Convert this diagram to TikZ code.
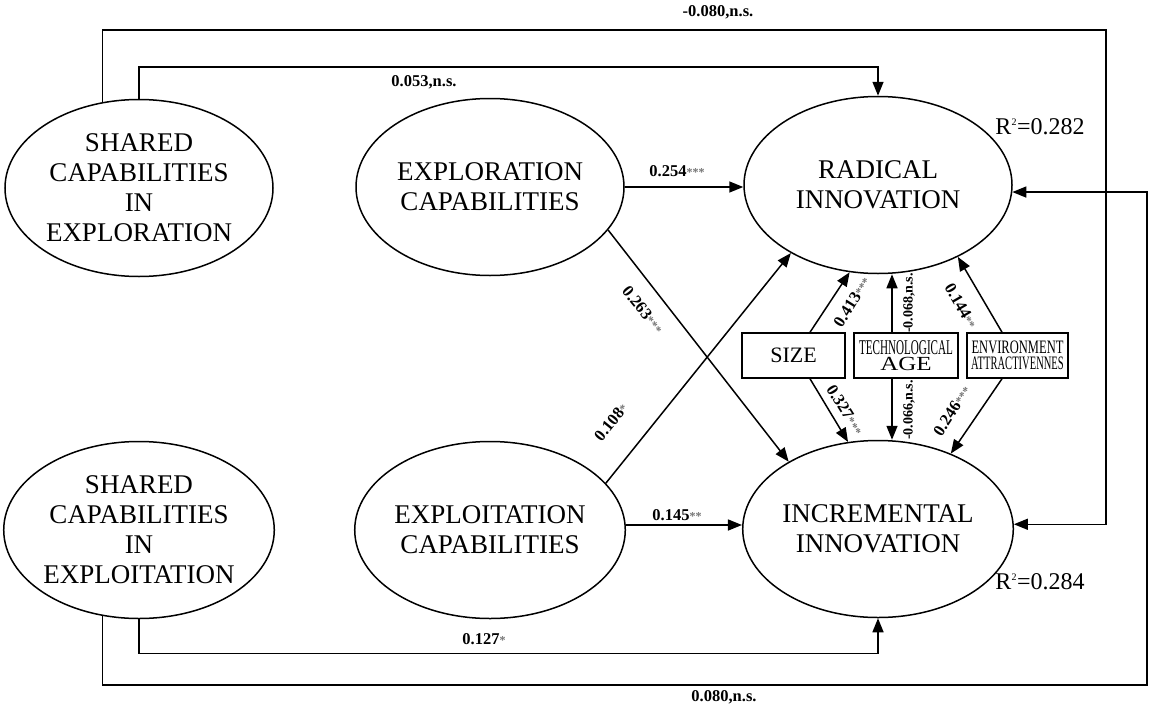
\documentclass[tikz,border=0pt]{standalone}
\usepackage{fontspec}
\setmainfont{Liberation Serif}
\usetikzlibrary{arrows.meta,shapes.geometric}
\newcommand{\sigst}[1]{{\fontsize{12}{12}\selectfont\color{black!55}#1}}
\begin{document}
\begin{tikzpicture}[x=1pt,y=-1pt,
  lat/.style={ellipse,draw,line width=1.5pt,minimum width=268pt,minimum height=177pt,inner sep=0pt,align=center,font=\fontsize{27}{30}\selectfont},
  ctl/.style={rectangle,draw,line width=1.5pt,minimum height=45pt,inner sep=0pt,align=center},
  conn/.style={line width=1.5pt},
  arr/.style={conn,-{Triangle[length=14pt,width=11pt]}},
  coef/.style={font=\fontsize{16.5}{16.5}\selectfont\bfseries,inner sep=1pt},
  vcoef/.style={font=\fontsize{14}{14}\selectfont\bfseries,inner sep=1pt,rotate=90},
  rsq/.style={font=\fontsize{24}{24}\selectfont,inner sep=0pt}
]
\useasboundingbox (0,0) rectangle (1153,709);

% latent variables
\node[lat] (sce) at (139,188) {SHARED\\CAPABILITIES\\IN\\EXPLORATION};
\node[lat] (sxp) at (139,530) {SHARED\\CAPABILITIES\\IN\\EXPLOITATION};
\node[lat] (ecap) at (490,187) {EXPLORATION\\CAPABILITIES};
\node[lat] (xcap) at (490,530) {EXPLOITATION\\CAPABILITIES};
\node[lat] (rad) at (878,185) {RADICAL\\INNOVATION};
\node[lat] (inc) at (878,529) {INCREMENTAL\\INNOVATION};

% control boxes
\node[ctl,minimum width=103pt,font=\fontsize{22}{22}\selectfont] (size) at (793.5,355.5) {SIZE};
\node[ctl,minimum width=104pt] (tech) at (906,355.5)
  {{\fontsize{21}{19}\selectfont\scalebox{0.53}[1]{TECHNOLOGICAL}}\\[2pt]{\fontsize{20}{19}\selectfont\scalebox{1.25}[1]{AGE}}};
\node[ctl,minimum width=101pt] (env) at (1017.5,355.5)
  {{\fontsize{19}{19}\selectfont\scalebox{0.66}[1]{ENVIRONMENT}}\\[2pt]{\fontsize{19}{19}\selectfont\scalebox{0.555}[1]{ATTRACTIVENNES}}};

% R squared
\node[rsq] (r1) at (1040,127) {R\textsuperscript{\fontsize{10}{10}\selectfont 2}=0.282};
\node[rsq] (r2) at (1040,582) {R\textsuperscript{\fontsize{10}{10}\selectfont 2}=0.284};

% frame connectors
\coordinate (ne) at (1106,30);
\coordinate (se) at (1147,685);
\draw[arr] (sce.113) |- (ne) |- (inc.2);
\draw[arr] (sce.north) -- ++(0,-32) -| (rad.north);
\draw[arr] (sxp.south) -- ++(0,34) -| (inc.south);
\draw[arr] (sxp.247) |- (se) |- (rad.-3);

% main paths
\draw[arr] (ecap.east) -- (ecap.east -| rad.west);
\draw[arr] ([yshift=5pt]xcap.east) -- ([yshift=5pt]xcap.east -| inc.west);
\draw[arr] (ecap.-20) -- (inc.143);
\draw[arr] (xcap.22) -- (rad.218);

% control paths
\draw[arr] ([xshift=16.5pt]size.north) -- (rad.252);
\draw[arr] ([xshift=16.5pt]size.south) -- (inc.109);
\draw[arr] ([xshift=-14pt]tech.north) -- ([xshift=-14pt]tech.north |- rad.south);
\draw[arr] ([xshift=-14pt]tech.south) -- ([xshift=-14pt]tech.south |- inc.north);
\draw[arr] ([xshift=-15.5pt]env.north) -- (rad.318);
\draw[arr] ([xshift=-15.5pt]env.south) -- (inc.46);

% coefficients
\node[coef] (c1) at (718,12) {-0.080,n.s.};
\node[coef] (c2) at (424,82) {0.053,n.s.};
\node[coef] (c3) at (484,639) {0.127\sigst{*}};
\node[coef] (c4) at (724,697) {0.080,n.s.};
\node[coef] (c5) at (677,171) {0.254\sigst{***}};
\node[coef] (c6) at (677,515) {0.145\sigst{**}};
\node[coef,rotate=-51] (c7) at (643,310) {0.263\sigst{***}};
\node[coef,rotate=51] (c8) at (611,422) {0.108\sigst{*}};
\node[coef,rotate=58] (c9) at (852,302) {0.413\sigst{***}};
\node[coef,rotate=-58] (c10) at (845,410) {0.327\sigst{***}};
\node[vcoef] (c11) at (909,303) {-0.068,n.s.};
\node[vcoef] (c12) at (909,410) {-0.066,n.s.};
\node[coef,rotate=-60] (c13) at (961,306) {0.144\sigst{**}};
\node[coef,rotate=57] (c14) at (952,411) {0.246\sigst{***}};
\end{tikzpicture}
\end{document}
